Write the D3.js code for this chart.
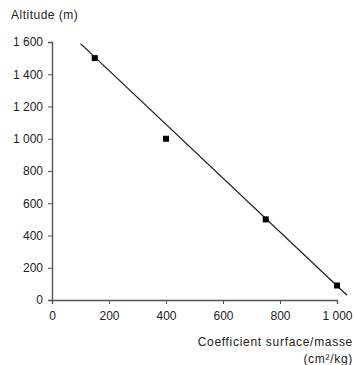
<!DOCTYPE html>
<html>
<head>
<meta charset="utf-8">
<script src="https://cdn.jsdelivr.net/npm/d3@7"></script>
<style>
  body { margin: 0; background: #fff; }
  text { font-family: "Liberation Sans", Arial, sans-serif; fill: #222; }
</style>
</head>
<body>
<div id="chart"></div>
<script>
// measured points (coefficient, altitude)
var coefValues = [150, 400, 750, 1000];
var altValues = [1500, 1000, 500, 90];

// fitted line endpoints
var lineCoef = [100, 1035];
var lineAlt = [1590, 30];

var xTicks = [0, 200, 400, 600, 800, 1000];
var yTicks = [0, 200, 400, 600, 800, 1000, 1200, 1400, 1600];

var width = 355, height = 365;
var margin = { top: 42, left: 52, bottom: 65, right: 18 };

var fr = d3.formatLocale({ decimal: ",", thousands: "\u2009", grouping: [3], currency: ["", " €"] });
var fmt = function (d) { return fr.format(",")(d).replace("\u2009", " "); };

var x = d3.scaleLinear().domain([0, 1000]).range([margin.left, width - margin.right]);
var y = d3.scaleLinear().domain([0, 1600]).range([height - margin.bottom, margin.top]);

var svg = d3.select("#chart").append("svg")
  .attr("width", width)
  .attr("height", height);

// axes
var xAxis = svg.append("g")
  .attr("transform", "translate(0," + y(0) + ")")
  .call(d3.axisBottom(x).tickValues(xTicks).tickSize(4).tickPadding(7).tickFormat(fmt));

var yAxis = svg.append("g")
  .attr("transform", "translate(" + x(0) + ",0)")
  .call(d3.axisLeft(y).tickValues(yTicks).tickSize(4).tickPadding(5).tickFormat(fmt));

[xAxis, yAxis].forEach(function (a) {
  a.select(".domain").attr("stroke", "#555").attr("stroke-width", 1.4);
  a.selectAll(".tick line").attr("stroke", "#555").attr("stroke-width", 1);
  a.selectAll(".tick text").attr("font-size", 12).attr("fill", "#222")
    .attr("font-family", "'Liberation Sans', Arial, sans-serif");
});

// regression line
var lineData = lineCoef.map(function (c, i) { return [c, lineAlt[i]]; });
svg.append("path")
  .datum(lineData)
  .attr("fill", "none")
  .attr("stroke", "#222")
  .attr("stroke-width", 1.3)
  .attr("d", d3.line().x(function (d) { return x(d[0]); }).y(function (d) { return y(d[1]); }));

// points
var pts = coefValues.map(function (c, i) { return { c: c, a: altValues[i] }; });
svg.selectAll(".pt")
  .data(pts)
  .enter()
  .append("rect")
  .attr("class", "pt")
  .attr("x", function (d) { return x(d.c) - 3; })
  .attr("y", function (d) { return y(d.a) - 3; })
  .attr("width", 6)
  .attr("height", 6)
  .attr("fill", "#000");

// titles
svg.append("text")
  .attr("x", 11)
  .attr("y", 19)
  .attr("font-size", 12)
  .attr("letter-spacing", 0.5)
  .text("Altitude (m)");

svg.append("text")
  .attr("x", 353)
  .attr("y", 346)
  .attr("text-anchor", "end")
  .attr("font-size", 12)
  .attr("letter-spacing", 0.7)
  .text("Coefficient surface/masse");

svg.append("text")
  .attr("x", 353)
  .attr("y", 363)
  .attr("text-anchor", "end")
  .attr("font-size", 12)
  .attr("letter-spacing", 0.7)
  .text("(cm²/kg)");
</script>
</body>
</html>
